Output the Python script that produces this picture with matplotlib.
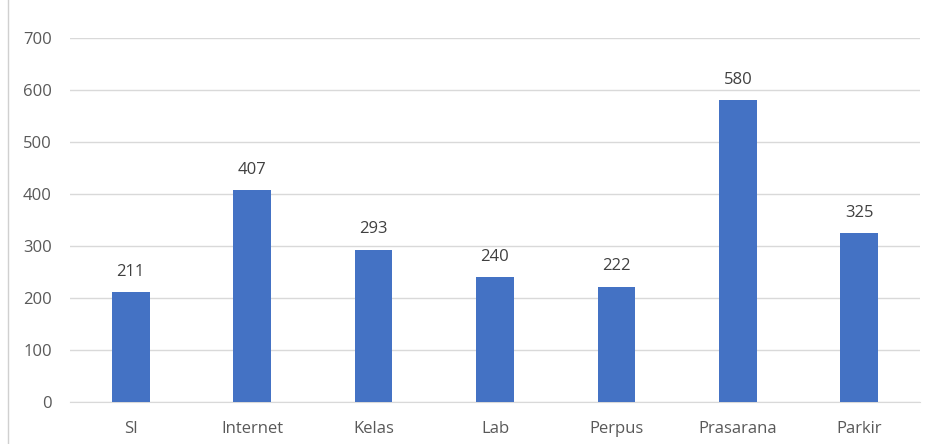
import matplotlib
matplotlib.use("Agg")
import matplotlib.pyplot as plt
from matplotlib.lines import Line2D

categories = ["SI", "Internet", "Kelas", "Lab", "Perpus", "Prasarana", "Parkir"]
values = [211, 407, 293, 240, 222, 580, 325]
y_ticks = [0, 100, 200, 300, 400, 500, 600, 700]

plt.rcParams["font.family"] = ["Open Sans", "DejaVu Sans"]
text_color = "#595959"

fig = plt.figure(figsize=(9.33, 4.44), dpi=100)
ax = fig.add_axes([70 / 933, 42 / 444, 850 / 933, 364 / 444])

x = range(len(categories))
bars = ax.bar(x, values, width=0.31, color="#4472C4", zorder=3)
for b, v in zip(bars, values):
    ax.annotate(str(v), (b.get_x() + b.get_width() / 2, v), xytext=(0, 9),
                textcoords="offset points", ha="center", va="bottom",
                fontsize=12, color="#404040")

ax.set_xlim(-0.5, len(categories) - 0.5)
ax.set_ylim(0, 700)
ax.set_yticks(y_ticks)
ax.set_xticks(list(x))
ax.set_xticklabels(categories)
ax.grid(axis="y", color="#D9D9D9", linewidth=1, zorder=0)
for s in ["top", "right", "left"]:
    ax.spines[s].set_visible(False)
ax.spines["bottom"].set_color("#D9D9D9")
ax.tick_params(length=0, labelsize=12, colors=text_color)
ax.tick_params(axis="y", pad=13)
ax.tick_params(axis="x", pad=14)

# chart border fragment on the left
fig.add_artist(Line2D([8 / 933, 8 / 933], [0, 1], color="#D0D0D0", linewidth=1))

fig.savefig("out.png", dpi=100)
